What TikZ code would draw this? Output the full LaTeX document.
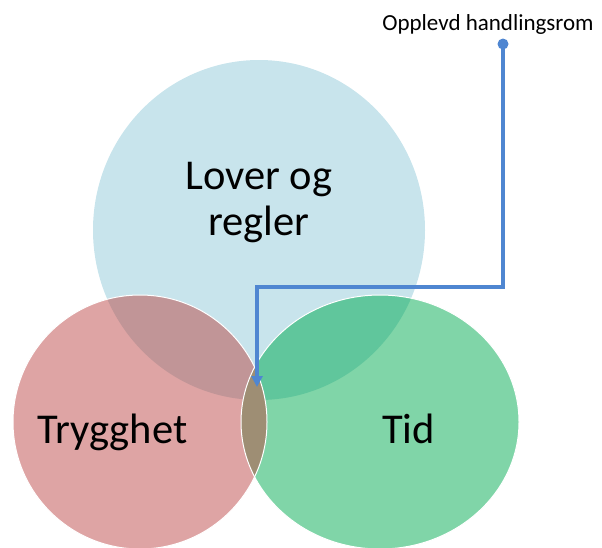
\documentclass[tikz,border=0pt]{standalone}
\usepackage{fontspec}
\setmainfont{Carlito}
\usetikzlibrary{arrows.meta}

\definecolor{lovfill}{HTML}{C8E4EC}
\definecolor{trygfill}{HTML}{DEA4A4}
\definecolor{tidfill}{HTML}{80D5A8}
\definecolor{lovtryg}{HTML}{C19597}
\definecolor{lovtid}{HTML}{60C69C}
\definecolor{trygtid}{HTML}{9E8E74}
\definecolor{callout}{HTML}{4F86D1}

\tikzset{
  biglabel/.style={font=\fontsize{42.5}{46}\selectfont, text=black, align=center, inner sep=0pt},
  smalllabel/.style={font=\fontsize{23}{27}\selectfont, text=black, inner sep=0pt},
  rim/.style={draw=white, line width=1pt},
  calloutline/.style={draw=callout, line width=3.6pt, -{Triangle[length=11pt,width=11pt]}},
}

\newcommand{\lovpath}{(259,230) ellipse [x radius=166, y radius=170]}
\newcommand{\trygpath}{(140,422) ellipse [x radius=127, y radius=127]}
\newcommand{\tidpath}{(380,422) ellipse [x radius=139, y radius=127]}

\begin{document}
\begin{tikzpicture}[x=1pt,y=-1pt]
  \useasboundingbox (0,0) rectangle (602,547);
  \clip (0,0) rectangle (602,547);

  % the three sets
  \fill[lovfill] \lovpath;
  \fill[trygfill] \trygpath;
  \fill[tidfill] \tidpath;

  % pairwise overlaps
  \begin{scope}
    \clip \lovpath;
    \fill[lovtryg] \trygpath;
    \fill[lovtid] \tidpath;
  \end{scope}
  \begin{scope}
    \clip \trygpath;
    \fill[trygtid] \tidpath;
  \end{scope}

  % thin white rims
  \draw[rim] \tidpath;
  \draw[rim] \trygpath;

  % labels
  \node[biglabel] (lov) at (259,203) {Lover og\\regler};
  \node[biglabel, anchor=base] (tryg) at (112.5,443) {Trygghet};
  \node[biglabel, anchor=base] (tid) at (408.5,443) {Tid};
  \node[smalllabel, anchor=base] (oh) at (488,30) {Opplevd handlingsrom};

  % callout from the label down into the common region
  \coordinate (dot) at (503,44);
  \coordinate (bend) at (257,287);
  \coordinate (tip) at (257,387);
  \draw[draw=black!35, line width=3.6pt, opacity=0.35, shift={(1.2,-1.2)}]
    (dot) -- (dot |- bend) -- (bend) -- ([yshift=12pt]tip);
  \draw[calloutline] (dot) -- (dot |- bend) -- (bend) -- (tip);
  \fill[callout] (dot) circle [radius=5.5pt];
\end{tikzpicture}
\end{document}
